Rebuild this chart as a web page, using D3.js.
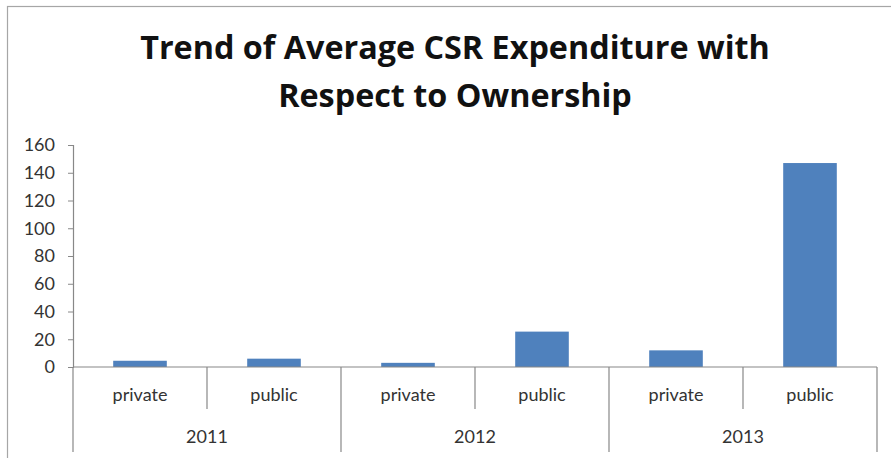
<!DOCTYPE html>
<html>
<head>
<meta charset="UTF-8">
<title>Trend of Average CSR Expenditure</title>
<script src="https://cdn.jsdelivr.net/npm/d3@7"></script>
<style>
  body { margin: 0; background: #fff; }
  text { font-family: Lato, "Open Sans", sans-serif; }
</style>
</head>
<body>
<div id="chart"></div>
<script>
// data
var years = ["2011", "2012", "2013"];
var ownership = ["private", "public"];
var privateValues = [4.5, 3, 12];
var publicValues = [6, 25.5, 147];
var yTicks = [0, 20, 40, 60, 80, 100, 120, 140, 160];

var W = 891, H = 458;
var plotLeft = 73, plotRight = 877, plotTop = 145, plotBottom = 367;

// flat list of the six bars, year by year
var rows = [];
years.forEach(function(yr, i) {
  rows.push({ year: yr, own: ownership[0], value: privateValues[i], key: yr + "-" + ownership[0] });
  rows.push({ year: yr, own: ownership[1], value: publicValues[i], key: yr + "-" + ownership[1] });
});

var svg = d3.select("#chart").append("svg")
  .attr("width", W)
  .attr("height", H);

svg.append("rect").attr("width", W).attr("height", H).attr("fill", "#fff");
// chart border (runs off the right / bottom edge)
svg.append("rect")
  .attr("x", 7.5).attr("y", 6.5)
  .attr("width", 900).attr("height", 470)
  .attr("fill", "none").attr("stroke", "#a6a6a6").attr("stroke-width", 1.2);

// title, sized so the first line spans the same width as the original
var title = svg.append("text")
  .attr("text-anchor", "middle")
  .attr("font-weight", "bold")
  .attr("font-size", 28)
  .attr("fill", "#111")
  .style("font-family", "'Open Sans', sans-serif");
var t1 = title.append("tspan").attr("x", 455).attr("y", 59).text("Trend of Average CSR Expenditure with");
title.append("tspan").attr("x", 455).attr("y", 107).text("Respect to Ownership");
var w1 = t1.node().getComputedTextLength();
title.attr("font-size", 28 * 630 / w1);

var x = d3.scaleBand()
  .domain(rows.map(function(d) { return d.key; }))
  .range([plotLeft, plotRight])
  .padding(0);

var xYear = d3.scaleBand()
  .domain(years)
  .range([plotLeft, plotRight])
  .padding(0);

var y = d3.scaleLinear()
  .domain([0, 160])
  .range([plotBottom, plotTop]);

// y axis
var yAxis = svg.append("g")
  .attr("transform", "translate(" + plotLeft + ",0)")
  .call(d3.axisLeft(y).tickValues(yTicks).tickSize(5).tickPadding(13));
yAxis.select(".domain").attr("stroke", "#888").attr("stroke-width", 1.2);
yAxis.selectAll(".tick line").attr("stroke", "#888");
yAxis.selectAll(".tick text")
  .attr("font-size", 18)
  .attr("fill", "#333")
  .style("font-family", "Lato, sans-serif");

// bars
var barW = x.bandwidth() / 2.5;
svg.selectAll("rect.bar")
  .data(rows)
  .enter()
  .append("rect")
  .attr("class", "bar")
  .attr("x", function(d) { return x(d.key) + (x.bandwidth() - barW) / 2; })
  .attr("y", function(d) { return y(d.value); })
  .attr("width", barW)
  .attr("height", function(d) { return y(0) - y(d.value); })
  .attr("fill", "#4f81bd");

// category axis line
svg.append("line")
  .attr("x1", plotLeft).attr("x2", plotRight)
  .attr("y1", y(0)).attr("y2", y(0))
  .attr("stroke", "#888").attr("stroke-width", 1.2);

// short separators between private / public
svg.selectAll("line.sub")
  .data(years)
  .enter()
  .append("line")
  .attr("class", "sub")
  .attr("x1", function(d) { return xYear(d) + xYear.bandwidth() / 2; })
  .attr("x2", function(d) { return xYear(d) + xYear.bandwidth() / 2; })
  .attr("y1", y(0)).attr("y2", 409)
  .attr("stroke", "#888").attr("stroke-width", 1.2);

// long separators between years
var yearEdges = years.map(function(d) { return xYear(d); }).concat([plotRight]);
svg.selectAll("line.yr")
  .data(yearEdges)
  .enter()
  .append("line")
  .attr("class", "yr")
  .attr("x1", function(d) { return d; })
  .attr("x2", function(d) { return d; })
  .attr("y1", y(0)).attr("y2", 452)
  .attr("stroke", "#888").attr("stroke-width", 1.2);

// ownership labels
svg.selectAll("text.own")
  .data(rows)
  .enter()
  .append("text")
  .attr("class", "own")
  .attr("x", function(d) { return x(d.key) + x.bandwidth() / 2; })
  .attr("y", 401)
  .attr("text-anchor", "middle")
  .attr("font-size", 18)
  .attr("fill", "#333")
  .text(function(d) { return d.own; });

// year labels
svg.selectAll("text.year")
  .data(years)
  .enter()
  .append("text")
  .attr("class", "year")
  .attr("x", function(d) { return xYear(d) + xYear.bandwidth() / 2; })
  .attr("y", 443)
  .attr("text-anchor", "middle")
  .attr("font-size", 18)
  .attr("fill", "#333")
  .text(function(d) { return d; });
</script>
</body>
</html>
